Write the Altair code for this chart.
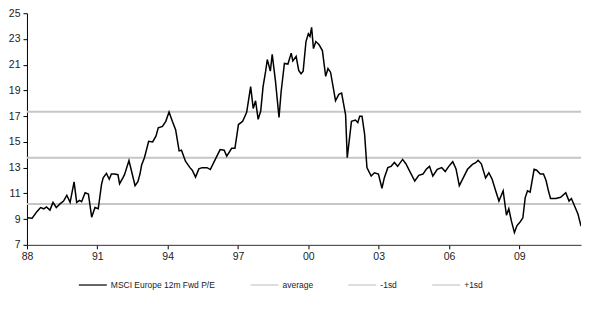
import altair as alt
import pandas as pd

# MSCI Europe 12m forward P/E (decimal year, value)
years = [
    1988.00, 1988.22, 1988.43, 1988.58, 1988.72, 1988.83, 1988.98, 1989.11, 1989.25, 1989.42,
    1989.56, 1989.70, 1989.84, 1990.01, 1990.12, 1990.24, 1990.33, 1990.48, 1990.62, 1990.76,
    1990.90, 1991.04, 1991.18, 1991.25, 1991.39, 1991.51, 1991.60, 1991.74, 1991.88, 1991.95,
    1992.09, 1992.16, 1992.35, 1992.51, 1992.61, 1992.73, 1992.82, 1992.89, 1993.01, 1993.19,
    1993.36, 1993.50, 1993.60, 1993.78, 1993.92, 1994.06, 1994.20, 1994.34, 1994.49, 1994.59,
    1994.76, 1994.95, 1995.05, 1995.19, 1995.33, 1995.47, 1995.68, 1995.82, 1996.10, 1996.24,
    1996.41, 1996.52, 1996.73, 1996.87, 1997.02, 1997.20, 1997.37, 1997.54, 1997.65, 1997.75,
    1997.86, 1997.97, 1998.07, 1998.18, 1998.25, 1998.38, 1998.46, 1998.60, 1998.75, 1998.84,
    1998.98, 1999.13, 1999.27, 1999.34, 1999.48, 1999.59, 1999.69, 1999.78, 1999.90, 2000.00,
    2000.07, 2000.14, 2000.22, 2000.32, 2000.46, 2000.60, 2000.74, 2000.84, 2000.95, 2001.05,
    2001.16, 2001.30, 2001.42, 2001.59, 2001.66, 2001.84, 2002.01, 2002.11, 2002.19, 2002.29,
    2002.40, 2002.50, 2002.57, 2002.68, 2002.82, 2002.99, 2003.14, 2003.24, 2003.39, 2003.53,
    2003.67, 2003.81, 2004.02, 2004.16, 2004.36, 2004.54, 2004.71, 2004.89, 2005.03, 2005.17,
    2005.31, 2005.50, 2005.69, 2005.84, 2005.99, 2006.16, 2006.30, 2006.44, 2006.58, 2006.79,
    2007.00, 2007.14, 2007.24, 2007.38, 2007.56, 2007.70, 2007.84, 2007.99, 2008.13, 2008.31,
    2008.45, 2008.55, 2008.66, 2008.79, 2008.90, 2009.04, 2009.15, 2009.25, 2009.35, 2009.46,
    2009.63, 2009.74, 2009.89, 2010.03, 2010.14, 2010.24, 2010.33, 2010.56, 2010.76, 2010.98,
    2011.12, 2011.22, 2011.36, 2011.50, 2011.63,
]
pe = [
    9.10, 9.07, 9.60, 9.90, 9.80, 9.95, 9.70, 10.30, 9.90, 10.20,
    10.40, 10.85, 10.30, 11.90, 10.30, 10.45, 10.35, 11.05, 10.95, 9.15,
    9.90, 9.80, 11.70, 12.20, 12.55, 12.10, 12.50, 12.50, 12.45, 11.75,
    12.20, 12.45, 13.55, 12.35, 11.60, 11.90, 12.50, 13.20, 13.77, 15.05,
    15.00, 15.45, 16.10, 16.20, 16.60, 17.33, 16.60, 15.95, 14.30, 14.35,
    13.50, 13.00, 12.80, 12.27, 12.90, 13.00, 13.00, 12.85, 13.90, 14.40,
    14.35, 13.90, 14.50, 14.50, 16.35, 16.60, 17.30, 19.30, 17.60, 18.20,
    16.75, 17.40, 19.30, 20.50, 21.40, 20.50, 21.80, 19.70, 16.90, 18.90,
    21.10, 21.05, 21.90, 21.30, 21.65, 20.55, 20.30, 20.50, 22.80, 23.40,
    23.20, 23.90, 22.25, 22.80, 22.55, 22.10, 20.10, 20.70, 20.40, 19.35,
    18.20, 18.70, 18.80, 17.10, 13.77, 16.60, 16.70, 16.50, 17.00, 17.00,
    15.60, 13.00, 12.75, 12.35, 12.60, 12.50, 11.40, 12.20, 13.00, 13.10,
    13.40, 13.10, 13.64, 13.30, 12.60, 11.96, 12.40, 12.50, 12.87, 13.10,
    12.35, 12.87, 13.00, 12.70, 13.10, 13.46, 12.90, 11.60, 12.10, 12.87,
    13.25, 13.38, 13.57, 13.30, 12.20, 12.60, 12.10, 11.20, 10.40, 11.20,
    9.30, 9.80, 8.86, 7.95, 8.50, 8.80, 9.10, 10.67, 11.20, 11.10,
    12.87, 12.80, 12.50, 12.50, 12.00, 11.20, 10.60, 10.60, 10.70, 11.05,
    10.40, 10.60, 10.00, 9.40, 8.45,
]

series_names = ["MSCI Europe 12m Fwd P/E", "average", "-1sd", "+1sd"]
series_colors = ["#000000", "#c6c6c6", "#c6c6c6", "#c6c6c6"]
ref_names = ["average", "-1sd", "+1sd"]
ref_values = [13.76, 10.18, 17.34]
y_ticks = [7, 9, 11, 13, 15, 17, 19, 21, 23, 25]
x_ticks = [1988, 1991, 1994, 1997, 2000, 2003, 2006, 2009]

df = pd.DataFrame({"year": years, "pe": pe, "series": series_names[0]})
ref = pd.DataFrame({"value": ref_values, "series": ref_names})

font = "Liberation Sans"

color = alt.Color(
    "series:N",
    scale=alt.Scale(domain=series_names, range=series_colors),
    legend=alt.Legend(
        title=None, orient="none", legendX=51, legendY=257, direction="horizontal",
        symbolType="stroke", symbolSize=784, symbolStrokeWidth=1.2,
        labelFontSize=8.5, labelFont=font, labelColor="#222222",
        columnPadding=32, labelOffset=3,
    ),
)

yscale = alt.Scale(domain=[7, 25], nice=False, zero=False)
yaxis = alt.Axis(
    values=y_ticks, title=None, grid=False, domainColor="#000000", tickColor="#000000",
    tickSize=4, labelPadding=3, labelFontSize=10.5, labelFont=font, labelColor="#222222",
    labelFlush=False,
)
xscale = alt.Scale(domain=[1988, 2011.63], nice=False, zero=False)
xaxis = alt.Axis(
    values=x_ticks, title=None, grid=False, domainColor="#333333", tickColor="#000000",
    tickSize=4, labelPadding=3, labelFontSize=10.5, labelFont=font, labelColor="#222222",
    labelExpr="slice(toString(datum.value), 2)", labelFlush=False,
)

rules = alt.Chart(ref).mark_rule(strokeWidth=2).encode(
    y=alt.Y("value:Q", scale=yscale, axis=yaxis),
    color=color,
)
line = alt.Chart(df).mark_line(strokeWidth=1.5, clip=True).encode(
    x=alt.X("year:Q", scale=xscale, axis=xaxis),
    y=alt.Y("pe:Q", scale=yscale, axis=yaxis),
    color=color,
)

chart = (
    alt.layer(rules, line)
    .properties(width=555, height=232, padding={"left": 0, "top": 0, "right": 0, "bottom": 0})
    .configure_view(stroke=None)
)

chart.save("out.html", embed_options={"renderer": "svg", "actions": False})
